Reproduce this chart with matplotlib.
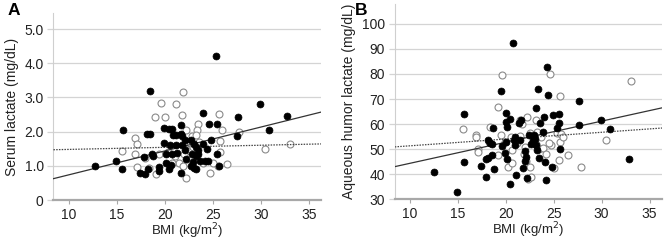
import numpy as np
import matplotlib.pyplot as plt

plt.rcParams['font.family'] = ['Liberation Sans', 'DejaVu Sans']

# Panel A: serum lactate vs BMI
a_fill_bmi = [12.7, 14.9, 15.6, 15.5, 18.5, 18.1, 18.5, 17.8, 17.4, 17.9, 18.3, 18.7, 18.8, 19.4, 19.4,
              19.9, 20.4, 19.9, 20.1, 20.1, 20.8, 20.5, 20.9, 20.8, 20.6, 20.4, 21.2, 21.2, 21.7, 21.7,
              21.8, 21.8, 22.1, 22.1, 21.7, 22.2, 22.7, 23.0, 23.3, 23.5, 22.9, 22.7, 23.0, 23.3, 23.7,
              24.0, 24.0, 24.4, 24.6, 24.2, 24.5, 25.3, 25.4, 25.4, 25.6, 24.8, 23.5, 23.2, 27.6, 27.5,
              29.9, 30.8, 32.7, 22.8, 21.3]
a_fill_lac = [1.00, 1.13, 2.05, 0.90, 3.20, 1.92, 1.92, 1.25, 0.78, 0.75, 0.90, 1.35, 1.28, 0.97, 0.86,
              2.12, 2.07, 1.68, 1.36, 1.07, 2.07, 1.60, 1.90, 1.36, 1.02, 0.92, 1.90, 1.60, 2.20, 1.92,
              1.88, 1.60, 1.75, 1.45, 0.78, 1.20, 1.75, 1.65, 1.55, 1.45, 1.10, 1.00, 0.95, 0.90, 1.15,
              2.55, 1.65, 1.50, 2.23, 1.15, 1.15, 4.20, 2.23, 1.35, 1.00, 1.75, 1.35, 1.28, 2.43, 1.87,
              2.80, 2.05, 2.47, 1.35, 1.38]
a_open_bmi = [15.5, 16.9, 17.1, 16.9, 17.1, 17.9, 19.0, 19.6, 20.0, 21.2, 21.9, 21.8, 22.2, 22.6, 22.8,
              23.5, 23.4, 23.3, 25.6, 26.0, 25.7, 25.8, 25.5, 24.7, 26.5, 27.7, 30.4, 33.0, 19.1, 19.4,
              22.2, 21.5, 21.9, 22.3, 20.7, 22.5, 23.1, 24.0, 25.0, 21.1, 20.3, 22.0, 18.4, 23.6, 22.9]
a_open_lac = [1.44, 1.81, 1.65, 1.36, 0.98, 1.22, 2.43, 2.83, 2.43, 2.80, 3.15, 2.48, 2.05, 1.60, 1.88,
              2.23, 2.05, 1.90, 2.52, 2.05, 1.72, 1.40, 1.00, 0.80, 1.05, 1.98, 1.48, 1.64, 0.75, 1.35,
              0.65, 1.08, 1.00, 1.20, 1.08, 1.25, 1.20, 1.08, 1.08, 1.30, 1.40, 1.35, 0.95, 1.70, 1.55]
a_solid = (0.0698, 0.04)     # slope, intercept
a_dotted = (0.0061, 1.42)

# Panel B: aqueous humor lactate vs BMI
b_fill_bmi = [12.5, 14.9, 15.6, 15.6, 17.4, 17.9, 18.1, 17.9, 18.1, 18.3, 18.5, 18.7, 18.8, 18.6, 19.5,
              19.6, 20.0, 20.0, 20.1, 20.0, 19.9, 20.1, 20.4, 20.4, 20.7, 20.8, 20.9, 21.0, 21.1, 21.4,
              21.6, 21.5, 22.0, 22.0, 22.1, 22.2, 22.4, 22.8, 22.9, 23.1, 23.4, 23.1, 23.3, 23.5, 23.6,
              23.9, 24.0, 24.1, 24.2, 24.3, 24.4, 24.9, 24.8, 25.3, 25.5, 25.5, 25.6, 27.6, 27.6, 29.9,
              30.9, 32.9, 22.6, 21.8, 23.0]
b_fill_lac = [40.8, 33.0, 44.8, 64.2, 43.2, 46.2, 46.3, 38.8, 53.5, 52.6, 52.0, 58.5, 42.0, 47.7, 73.3,
              51.2, 64.5, 61.0, 59.0, 52.8, 48.6, 46.0, 62.0, 36.2, 92.5, 53.5, 55.0, 51.7, 39.5, 60.5,
              61.5, 53.6, 45.2, 49.4, 47.0, 38.5, 55.5, 53.6, 55.5, 66.5, 74.0, 51.7, 49.8, 46.5, 60.5,
              57.0, 63.0, 45.0, 37.8, 82.8, 71.7, 63.5, 42.9, 58.5, 64.0, 60.5, 50.0, 69.3, 59.8, 61.8,
              58.0, 46.0, 52.0, 42.5, 54.0]
b_open_bmi = [15.5, 16.9, 16.9, 17.1, 17.1, 18.2, 18.3, 19.2, 19.6, 19.2, 19.5, 20.2, 20.5, 20.6, 21.2,
              21.5, 21.5, 21.7, 21.9, 22.2, 22.1, 22.3, 22.6, 22.5, 22.5, 23.1, 23.1, 23.3, 23.5, 23.9,
              24.2, 24.6, 24.7, 25.0, 25.3, 25.5, 25.6, 25.7, 25.8, 26.0, 26.5, 27.8, 30.5, 33.1, 21.2,
              22.0, 20.6, 23.7, 24.5, 19.9]
b_open_lac = [58.0, 55.5, 54.8, 50.2, 49.0, 53.0, 59.0, 66.8, 79.7, 47.5, 55.8, 43.0, 55.0, 44.5, 53.5,
              61.8, 55.2, 60.0, 48.0, 63.0, 45.2, 38.0, 38.8, 42.8, 56.5, 61.8, 52.0, 57.0, 50.0, 50.5,
              48.0, 80.0, 51.8, 42.5, 56.5, 45.8, 53.0, 71.0, 56.2, 55.0, 47.8, 43.0, 53.6, 77.0, 52.5,
              51.0, 49.5, 55.0, 52.5, 53.0]
b_solid = (0.842, 35.9)
b_dotted = (0.27, 48.6)

fig = plt.figure(figsize=(6.68, 2.44), dpi=100)
ax_a = fig.add_axes([0.080, 0.180, 0.401, 0.767])
ax_b = fig.add_axes([0.591, 0.184, 0.400, 0.800])


def draw_panel(ax, fb, fl, ob, ol, solid, dotted, ylim, yticks, ylabels, ylabel):
    ax.set_xlim(8.4, 36.3)
    ax.set_ylim(*ylim)
    xs = np.array(ax.get_xlim())
    ax.plot(xs, solid[0] * xs + solid[1], color='#333333', lw=0.9, zorder=4)
    ax.plot(xs, dotted[0] * xs + dotted[1], color='#444444', lw=0.9, ls=(0, (1.2, 1.0)), zorder=4)
    ax.scatter(ob, ol, s=25, facecolors='white', edgecolors='#8a8a8a', linewidths=0.8, zorder=3)
    ax.scatter(fb, fl, s=25, facecolors='black', edgecolors='black', linewidths=0.5, zorder=5)
    ax.set_yticks(yticks)
    ax.set_yticklabels(ylabels)
    ax.set_xticks([10, 15, 20, 25, 30, 35])
    ax.grid(axis='y', color='#d4d4d4', lw=0.9)
    ax.set_axisbelow(True)
    for s in ['top', 'right']:
        ax.spines[s].set_visible(False)
    ax.spines['left'].set_color('#cfcfcf')
    ax.spines['left'].set_linewidth(0.8)
    ax.spines['bottom'].set_color('#a8a8a8')
    ax.spines['bottom'].set_linewidth(1.6)
    ax.tick_params(axis='y', length=4, color='#d4d4d4', width=0.9, labelsize=10, labelcolor='#222222', pad=3)
    ax.tick_params(axis='x', length=3, color='#a8a8a8', labelsize=10, labelcolor='#222222', pad=2.5)
    ax.set_xlabel('BMI (kg/m$^2$)', fontsize=9.5, color='#222222', labelpad=0)
    ax.set_ylabel(ylabel, fontsize=10, color='#222222', labelpad=4)


draw_panel(ax_a, a_fill_bmi, a_fill_lac, a_open_bmi, a_open_lac, a_solid, a_dotted,
           (0, 5.47), [0, 1, 2, 3, 4, 5], ['0', '1.0', '2.0', '3.0', '4.0', '5.0'],
           'Serum lactate (mg/dL)')
draw_panel(ax_b, b_fill_bmi, b_fill_lac, b_open_bmi, b_open_lac, b_solid, b_dotted,
           (30, 108), list(range(30, 101, 10)), [str(v) for v in range(30, 101, 10)],
           'Aqueous humor lactate (mg/dL)')

fig.text(0.020, 0.955, 'A', fontsize=12.5, fontweight='bold', va='center', ha='center')
fig.text(0.541, 0.955, 'B', fontsize=12.5, fontweight='bold', va='center', ha='center')

fig.savefig('out.png', dpi=100)
